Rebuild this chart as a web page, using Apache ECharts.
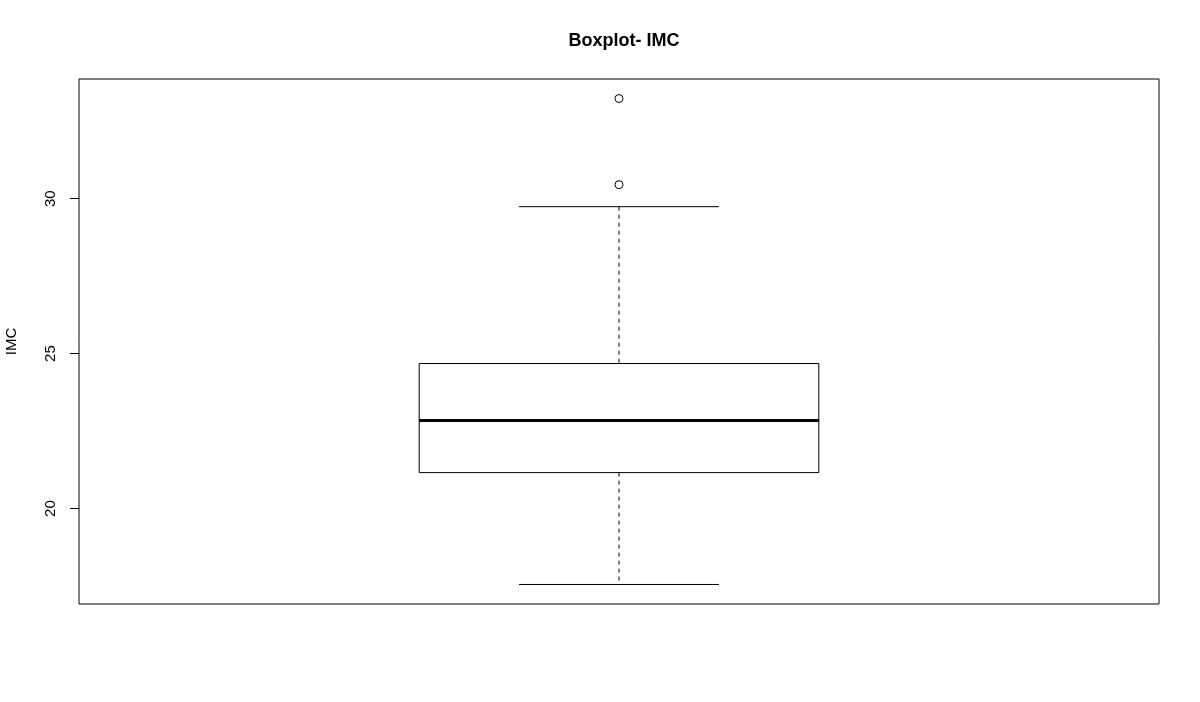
<!DOCTYPE html>
<html><head><meta charset="utf-8">
<script src="https://cdn.jsdelivr.net/npm/echarts@6/dist/echarts.min.js"></script>
<style>html,body{margin:0;padding:0;background:#fff}#c{width:1200px;height:702px}</style>
</head><body><div id="c"></div>
<script>
const categories = ['IMC'];
// [low whisker, Q1, median, Q3, high whisker]
const boxStats = [[17.55, 21.16, 22.84, 24.68, 29.74]];
const outliers = [33.23, 30.45];
const yTicks = [20, 25, 30];
const yMin = 16.92, yMax = 33.86;

const chart = echarts.init(document.getElementById('c'), null, {renderer: 'canvas'});
const boxData = boxStats.map((s, i) => [i + 1].concat(s));
const outData = outliers.map(v => [1, v]);
const BOX_HALF = 0.185, CAP_HALF = 0.0926;

function renderBox(params, api) {
  const x = api.value(0);
  const lo = api.value(1), q1 = api.value(2), med = api.value(3), q3 = api.value(4), hi = api.value(5);
  const L = api.coord([x - BOX_HALF, q3]), R = api.coord([x + BOX_HALF, q1]);
  const pLo = api.coord([x, lo]), pQ1 = api.coord([x, q1]), pQ3 = api.coord([x, q3]), pHi = api.coord([x, hi]);
  const capL = api.coord([x - CAP_HALF, 0])[0], capR = api.coord([x + CAP_HALF, 0])[0];
  const medL = api.coord([x - BOX_HALF, med]), medR = api.coord([x + BOX_HALF, med]);
  const solid = {stroke: '#000', lineWidth: 1, fill: null};
  const dashed = {stroke: '#000', lineWidth: 1, lineDash: [4, 4]};
  return {
    type: 'group',
    children: [
      {type: 'line', shape: {x1: pHi[0], y1: pHi[1], x2: pQ3[0], y2: pQ3[1]}, style: dashed},
      {type: 'line', shape: {x1: pQ1[0], y1: pQ1[1], x2: pLo[0], y2: pLo[1]}, style: dashed},
      {type: 'line', shape: {x1: capL, y1: pHi[1], x2: capR, y2: pHi[1]}, style: solid},
      {type: 'line', shape: {x1: capL, y1: pLo[1], x2: capR, y2: pLo[1]}, style: solid},
      {type: 'rect', shape: {x: L[0], y: L[1], width: R[0] - L[0], height: R[1] - L[1]}, style: {stroke: '#000', lineWidth: 1, fill: '#fff'}},
      {type: 'line', shape: {x1: medL[0], y1: medL[1], x2: medR[0], y2: medR[1]}, style: {stroke: '#000', lineWidth: 3}}
    ]
  };
}

chart.setOption({
  backgroundColor: '#fff',
  animation: false,
  title: {
    text: 'Boxplot- IMC', left: 619, top: 27, textAlign: 'center',
    textStyle: {fontFamily: 'Liberation Sans, Arial, sans-serif', fontSize: 18, fontWeight: 'bold', color: '#000'}
  },
  grid: {left: 79, right: 41, top: 79, bottom: 98, show: true, borderColor: '#000', borderWidth: 1,
    backgroundColor: 'transparent', containLabel: false, outerBoundsMode: 'none'},
  xAxis: {type: 'value', min: 0.5, max: 1.5, show: false},
  yAxis: {
    type: 'value', min: yMin, max: yMax,
    name: 'IMC', nameLocation: 'middle', nameRotate: 90, nameGap: 60,
    nameTextStyle: {fontFamily: 'Liberation Sans, Arial, sans-serif', fontSize: 15, color: '#000'},
    axisLine: {show: false},
    splitLine: {show: false},
    axisTick: {show: true, inside: false, length: 9, customValues: yTicks, lineStyle: {color: '#000', width: 1}},
    axisLabel: {show: true, customValues: yTicks, rotate: 90, margin: 21,
      fontFamily: 'Liberation Sans, Arial, sans-serif', fontSize: 15, color: '#000'}
  },
  series: [
    {type: 'custom', name: categories[0], renderItem: renderBox, data: boxData, clip: false, z: 2},
    {type: 'scatter', data: outData, symbol: 'circle', symbolSize: 8,
      itemStyle: {color: '#fff', borderColor: '#000', borderWidth: 1, opacity: 1}, z: 3}
  ]
});
</script></body></html>
